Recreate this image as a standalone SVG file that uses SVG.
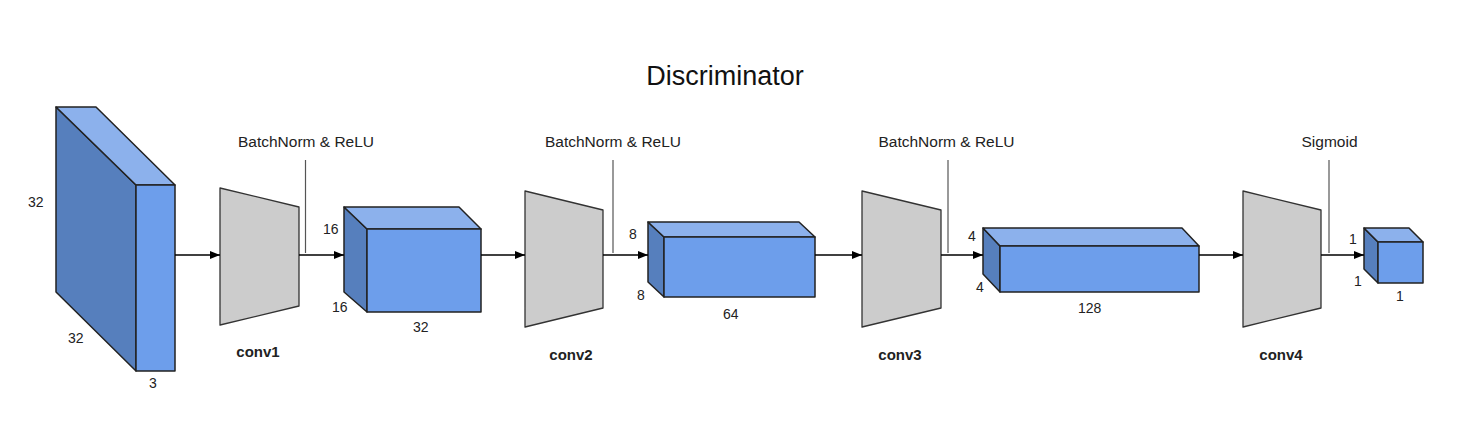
<svg xmlns="http://www.w3.org/2000/svg" width="1471" height="448" viewBox="0 0 1471 448">
<style>
.side{fill:#567fbd;stroke:#222;stroke-width:1.5;stroke-linejoin:round}
.top{fill:#8cb1ec;stroke:#222;stroke-width:1.5;stroke-linejoin:round}
.front{fill:#6d9eeb;stroke:#222;stroke-width:1.5;stroke-linejoin:round}
.conv{fill:#cccccc;stroke:#333;stroke-width:1.3;stroke-linejoin:round}
.arr{stroke:#000;stroke-width:1.5;fill:none}
.vl{stroke:#555;stroke-width:1.2;fill:none}
text{font-family:"Liberation Sans",Arial,sans-serif;fill:#222}
.num{font-size:14px}
.act{font-size:15.5px;text-anchor:middle}
.lbl{font-size:15px;font-weight:bold;text-anchor:middle}
</style>
<defs>
<marker id="ah" viewBox="0 0 10 8" refX="10" refY="4" markerWidth="10" markerHeight="8" markerUnits="userSpaceOnUse" orient="auto">
<path d="M0,0 L10,4 L0,8 z" fill="#000"/>
</marker>
</defs>
<rect width="1471" height="448" fill="#fff"/>
<text x="725" y="85" style="font-size:27px;text-anchor:middle;fill:#111">Discriminator</text>

<g id="input">
<polygon class="side" points="56,107 136,185 136,371 56,292"/>
<polygon class="top" points="56,107 96,107 175,185 136,185"/>
<rect class="front" x="136" y="185" width="39" height="186"/>
<text class="num" x="28" y="207">32</text>
<text class="num" x="68" y="343">32</text>
<text class="num" x="149" y="388">3</text>
</g>

<g id="conv1">
<polygon class="conv" points="220,188 299,207 299,306 220,325"/>
<text class="lbl" x="258" y="357">conv1</text>
</g>
<g id="act1">
<text class="act" x="306" y="147">BatchNorm &amp; ReLU</text>
</g>

<g id="feat1">
<polygon class="side" points="344,207 367,229 367,312 344,292"/>
<polygon class="top" points="344,207 459,207 481,229 367,229"/>
<rect class="front" x="367" y="229" width="114" height="83"/>
<text class="num" x="323" y="234">16</text>
<text class="num" x="332" y="312">16</text>
<text class="num" x="413" y="332">32</text>
</g>

<g id="conv2">
<polygon class="conv" points="525,191 603,210 603,308 525,327"/>
<text class="lbl" x="571" y="360">conv2</text>
</g>
<g id="act2">
<text class="act" x="613" y="147">BatchNorm &amp; ReLU</text>
</g>

<g id="feat2">
<polygon class="side" points="648,222 664,237 664,297 648,282"/>
<polygon class="top" points="648,222 799,222 815,237 664,237"/>
<rect class="front" x="664" y="237" width="151" height="60"/>
<text class="num" x="629" y="239">8</text>
<text class="num" x="637" y="300">8</text>
<text class="num" x="723" y="319">64</text>
</g>

<g id="conv3">
<polygon class="conv" points="862,191 941,210 941,308 862,327"/>
<text class="lbl" x="900" y="360">conv3</text>
</g>
<g id="act3">
<text class="act" x="946.5" y="147">BatchNorm &amp; ReLU</text>
</g>

<g id="feat3">
<polygon class="side" points="983,228 1000,246 1000,292 983,274"/>
<polygon class="top" points="983,228 1182,228 1199,246 1000,246"/>
<rect class="front" x="1000" y="246" width="199" height="46"/>
<text class="num" x="968" y="241">4</text>
<text class="num" x="976" y="292">4</text>
<text class="num" x="1078" y="313">128</text>
</g>

<g id="conv4">
<polygon class="conv" points="1243,191 1321,210 1321,308 1243,327"/>
<text class="lbl" x="1281" y="360">conv4</text>
</g>
<g id="act4">
<text class="act" x="1329.5" y="147">Sigmoid</text>
</g>

<g id="output">
<polygon class="side" points="1364,228 1378,242 1378,283 1364,269"/>
<polygon class="top" points="1364,228 1409,228 1423,242 1378,242"/>
<rect class="front" x="1378" y="242" width="45" height="41"/>
<text class="num" x="1349" y="244">1</text>
<text class="num" x="1354" y="286">1</text>
<text class="num" x="1396" y="301">1</text>
</g>

<g id="connectors">
<line class="arr" x1="175" y1="255" x2="220" y2="255" marker-end="url(#ah)"/>
<line class="arr" x1="299" y1="255" x2="344" y2="255" marker-end="url(#ah)"/>
<line class="arr" x1="481" y1="255" x2="525" y2="255" marker-end="url(#ah)"/>
<line class="arr" x1="603" y1="255" x2="648" y2="255" marker-end="url(#ah)"/>
<line class="arr" x1="815" y1="255" x2="862" y2="255" marker-end="url(#ah)"/>
<line class="arr" x1="941" y1="255" x2="983" y2="255" marker-end="url(#ah)"/>
<line class="arr" x1="1199" y1="255" x2="1243" y2="255" marker-end="url(#ah)"/>
<line class="arr" x1="1321" y1="255" x2="1364" y2="255" marker-end="url(#ah)"/>
<line class="vl" x1="305.5" y1="160" x2="305.5" y2="253"/>
<line class="vl" x1="613" y1="160" x2="613" y2="253"/>
<line class="vl" x1="948" y1="160" x2="948" y2="253"/>
<line class="vl" x1="1329" y1="160" x2="1329" y2="253"/>
</g>
</svg>
